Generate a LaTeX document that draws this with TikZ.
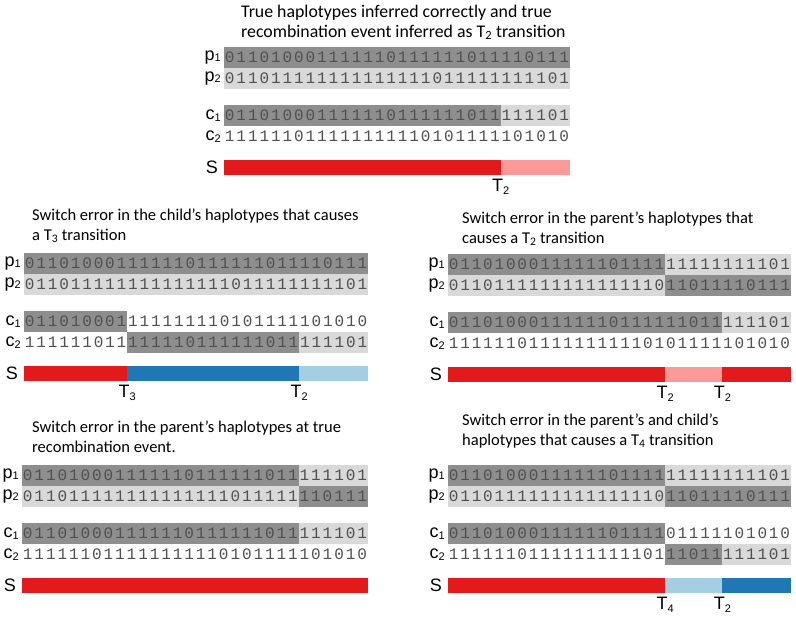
\documentclass[tikz,border=0pt]{standalone}
\usepackage{fontspec}
\setmainfont{Carlito}
\newfontfamily\arialf{Liberation Sans}
\newfontfamily\monof{Liberation Mono}
\definecolor{cDk}{RGB}{142,142,142}
\definecolor{cLt}{RGB}{217,217,217}
\definecolor{cRed}{RGB}{227,26,28}
\definecolor{cLRed}{RGB}{251,154,153}
\definecolor{cBlue}{RGB}{31,120,180}
\definecolor{cLBlue}{RGB}{166,206,227}
\definecolor{cDig}{RGB}{80,80,80}
\newcount\hcount
\def\hrow#1#2#3{\def\hname{#1}\def\hy{#2}\global\hcount=0 \hloop#3\relax}
\def\hloop#1{\ifx#1\relax\else\hput{#1}\expandafter\hloop\fi}
\def\hput#1{\node[dig] (\hname-\the\hcount) at ({\PX+(\the\hcount+0.5)*\hdx},{\PT+\hy+10.5}) {#1};\global\advance\hcount by 1\relax}
\def\setpanel#1#2#3{\def\PX{#1}\def\PT{#2}\def\hdx{#3}}
\newcommand\shd[4]{\fill[#1] ({\PX+#3*\hdx},{\PT+#2}) rectangle ({\PX+#4*\hdx},{\PT+#2+21});}
\newcommand\rowlbl[4]{\node[rlbl] (#1) at ({\PX-3},{\PT+#2+10.5}) {#3\raisebox{-1.5pt}{\fontsize{11}{11}\selectfont #4}};}
\newcommand\sbar[3]{\fill[#1] ({\PX+#2*\hdx},{\PT+113}) rectangle ({\PX+#3*\hdx},{\PT+128});}
\newcommand\slbl[1]{\node[rlbl] (#1) at ({\PX-6},{\PT+120.5}) {S};}
\newcommand\tlab[3]{\node[tl] (#1) at ({\PX+#2*\hdx},{\PT+132}) {T\raisebox{-3pt}{\fontsize{11}{11}\selectfont #3}};}
\begin{document}
\begin{tikzpicture}[x=1pt,y=-1pt,
  dig/.style={inner sep=0pt,font=\monof\fontsize{16}{16}\selectfont,text=cDig},
  rlbl/.style={inner sep=0pt,anchor=east,font=\arialf\fontsize{18}{18}\selectfont},
  tl/.style={inner sep=0pt,anchor=north,font=\arialf\fontsize{18}{18}\selectfont},
  ttl/.style={inner sep=0pt,anchor=base west,align=left,font=\fontsize{16.5}{19.5}\selectfont}]
\useasboundingbox (0,0) rectangle (796,619);
% ---------- top panel
\setpanel{224}{47}{11.53}
\node[ttl,font=\fontsize{17.8}{19.5}\selectfont] (ta) at (241,37) {True haplotypes inferred correctly and true\\recombination event inferred as T\textsubscript{2} transition};
\shd{cDk}{0}{0}{30}\shd{cLt}{21}{0}{30}\shd{cDk}{58}{0}{24}\shd{cLt}{58}{24}{30}
\hrow{ap1}{0}{011010001111110111111011110111}
\hrow{ap2}{21}{011011111111111111011111111101}
\hrow{ac1}{58}{011010001111110111111011111101}
\hrow{ac2}{79}{111111011111111110101111101010}
\rowlbl{alp1}{0}{p}{1}\rowlbl{alp2}{21}{p}{2}\rowlbl{alc1}{58}{c}{1}\rowlbl{alc2}{79}{c}{2}
\sbar{cRed}{0}{24}\sbar{cLRed}{24}{30}\slbl{als}
\tlab{at1}{24}{2}
% ---------- middle left
\setpanel{24}{253}{11.47}
\node[ttl] (tb) at (32,240) {Switch error in the child’s haplotypes that causes\\a T\textsubscript{3} transition};
\shd{cDk}{0}{0}{30}\shd{cLt}{21}{0}{30}\shd{cDk}{58}{0}{9}\shd{cDk}{79}{9}{24}\shd{cLt}{79}{24}{30}
\hrow{bp1}{0}{011010001111110111111011110111}
\hrow{bp2}{21}{011011111111111111011111111101}
\hrow{bc1}{58}{011010001111111110101111101010}
\hrow{bc2}{79}{111111011111110111111011111101}
\rowlbl{blp1}{0}{p}{1}\rowlbl{blp2}{21}{p}{2}\rowlbl{blc1}{58}{c}{1}\rowlbl{blc2}{79}{c}{2}
\sbar{cRed}{0}{9}\sbar{cBlue}{9}{24}\sbar{cLBlue}{24}{30}\slbl{bls}
\tlab{bt1}{9}{3}\tlab{bt2}{24}{2}
% ---------- middle right
\setpanel{448}{254}{11.43}
\node[ttl] (tc) at (462,243) {Switch error in the parent’s haplotypes that\\causes a T\textsubscript{2} transition};
\shd{cDk}{0}{0}{19}\shd{cLt}{0}{19}{30}\shd{cLt}{21}{0}{19}\shd{cDk}{21}{19}{30}\shd{cDk}{58}{0}{24}\shd{cLt}{58}{24}{30}
\hrow{cp1}{0}{011010001111110111111111111101}
\hrow{cp2}{21}{011011111111111111011011110111}
\hrow{cc1}{58}{011010001111110111111011111101}
\hrow{cc2}{79}{111111011111111110101111101010}
\rowlbl{clp1}{0}{p}{1}\rowlbl{clp2}{21}{p}{2}\rowlbl{clc1}{58}{c}{1}\rowlbl{clc2}{79}{c}{2}
\sbar{cRed}{0}{19}\sbar{cLRed}{19}{24}\sbar{cRed}{24}{30}\slbl{cls}
\tlab{ct1}{19}{2}\tlab{ct2}{24}{2}
% ---------- bottom left
\setpanel{22}{465}{11.53}
\node[ttl] (td) at (32,452) {Switch error in the parent’s haplotypes at true\\recombination event.};
\shd{cDk}{0}{0}{24}\shd{cLt}{0}{24}{30}\shd{cLt}{21}{0}{24}\shd{cDk}{21}{24}{30}\shd{cDk}{58}{0}{24}\shd{cLt}{58}{24}{30}
\hrow{dp1}{0}{011010001111110111111011111101}
\hrow{dp2}{21}{011011111111111111011111110111}
\hrow{dc1}{58}{011010001111110111111011111101}
\hrow{dc2}{79}{111111011111111110101111101010}
\rowlbl{dlp1}{0}{p}{1}\rowlbl{dlp2}{21}{p}{2}\rowlbl{dlc1}{58}{c}{1}\rowlbl{dlc2}{79}{c}{2}
\sbar{cRed}{0}{30}\slbl{dls}
% ---------- bottom right
\setpanel{448}{465}{11.43}
\node[ttl] (te) at (462,445) {Switch error in the parent’s and child’s\\haplotypes that causes a T\textsubscript{4} transition};
\shd{cDk}{0}{0}{19}\shd{cLt}{0}{19}{30}\shd{cLt}{21}{0}{19}\shd{cDk}{21}{19}{30}\shd{cDk}{58}{0}{19}\shd{cDk}{79}{19}{24}\shd{cLt}{79}{24}{30}
\hrow{ep1}{0}{011010001111110111111111111101}
\hrow{ep2}{21}{011011111111111111011011110111}
\hrow{ec1}{58}{011010001111110111101111101010}
\hrow{ec2}{79}{111111011111111110111011111101}
\rowlbl{elp1}{0}{p}{1}\rowlbl{elp2}{21}{p}{2}\rowlbl{elc1}{58}{c}{1}\rowlbl{elc2}{79}{c}{2}
\sbar{cRed}{0}{19}\sbar{cLBlue}{19}{24}\sbar{cBlue}{24}{30}\slbl{els}
\tlab{et1}{19}{4}\tlab{et2}{24}{2}
\end{tikzpicture}
\end{document}
